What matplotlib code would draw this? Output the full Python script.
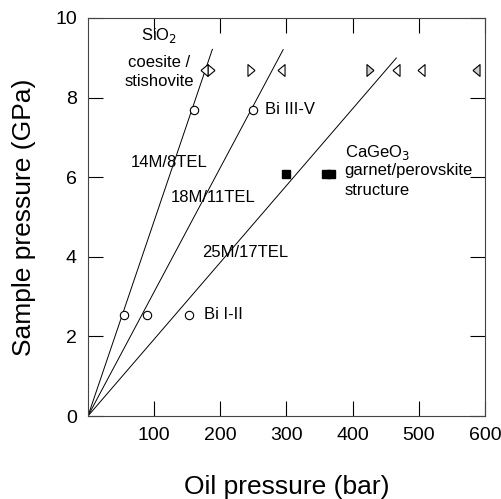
import matplotlib
matplotlib.use("Agg")
import matplotlib.pyplot as plt
import numpy as np

plt.rcParams['font.family'] = ['Liberation Sans', 'DejaVu Sans']

# Calibration lines (slope GPa/bar) and their x-ends
line_names = ["14M/8TEL", "18M/11TEL", "25M/17TEL"]
line_slopes = [0.049, 0.0312, 0.0193]
line_xend = [188, 295, 466]

# Bi transitions (open circles)
bi_x = [55, 89, 152, 160, 250]
bi_y = [2.55, 2.55, 2.55, 7.7, 7.7]

# SiO2 coesite/stishovite brackets (triangles)
tri_right_x = [186, 247, 426]
tri_right_y = [8.7, 8.7, 8.7]
tri_right_fill = ['white', 'white', '#cfcfcf']
tri_left_x = [175, 291, 465, 503, 587]
tri_left_y = [8.7, 8.7, 8.7, 8.7, 8.7]
tri_left_fill = ['white', 'white', 'white', 'white', '#cfcfcf']

# CaGeO3 garnet/perovskite (filled squares)
ca_x = [300, 360, 368]
ca_y = [6.08, 6.08, 6.08]

fig = plt.figure(figsize=(5.01, 4.99), dpi=100)
ax = fig.add_axes([0.1756, 0.1663, 0.7924, 0.7977])

for s, xe in zip(line_slopes, line_xend):
    xs = np.array([0, xe])
    ax.plot(xs, s * xs, color='black', lw=0.7)

m_right = [(0.6, 0), (-0.6, 1), (-0.6, -1), (0.6, 0)]
m_left = [(-0.6, 0), (0.6, 1), (0.6, -1), (-0.6, 0)]

ax.plot(bi_x, bi_y, 'o', ms=6, mfc='white', mec='black', mew=0.8)
for x, y, f in zip(tri_right_x, tri_right_y, tri_right_fill):
    ax.plot([x], [y], marker=m_right, ls='none', ms=8.5, mfc=f, mec='black', mew=0.8)
for x, y, f in zip(tri_left_x, tri_left_y, tri_left_fill):
    ax.plot([x], [y], marker=m_left, ls='none', ms=8.5, mfc=f, mec='black', mew=0.8)
ax.plot(ca_x, ca_y, 's', ms=6, mfc='black', mec='black')

fs = 12
ax.text(108, 9.56, "SiO$_2$", ha='center', va='center', fontsize=fs)
ax.text(108, 8.87, "coesite /", ha='center', va='center', fontsize=fs)
ax.text(108, 8.4, "stishovite", ha='center', va='center', fontsize=fs)
ax.text(268, 7.7, "Bi III-V", ha='left', va='center', fontsize=fs)
ax.text(64, 6.36, "14M/8TEL", ha='left', va='center', fontsize=fs)
ax.text(125, 5.48, "18M/11TEL", ha='left', va='center', fontsize=fs)
ax.text(173, 4.1, "25M/17TEL", ha='left', va='center', fontsize=fs)
ax.text(388, 6.51, "CaGeO$_3$", ha='left', va='baseline', fontsize=fs)
ax.text(388, 6.05, "garnet/perovskite", ha='left', va='baseline', fontsize=fs)
ax.text(388, 5.55, "structure", ha='left', va='baseline', fontsize=fs)
ax.text(175, 2.55, "Bi I-II", ha='left', va='center', fontsize=fs)

ax.set_xlim(0, 600)
ax.set_ylim(0, 10)
ax.set_xticks([100, 200, 300, 400, 500, 600])
ax.set_yticks([0, 2, 4, 6, 8, 10])
ax.tick_params(direction='in', length=11, width=0.8, top=True, right=True,
               labelsize=14, pad=8, colors='black')
for sp in ax.spines.values():
    sp.set_linewidth(0.8)
    sp.set_color('#444444')
ax.set_xlabel("Oil pressure (bar)", fontsize=19, labelpad=22)
ax.set_ylabel("Sample pressure (GPa)", fontsize=19, labelpad=14)

fig.savefig("out.png", dpi=100)
